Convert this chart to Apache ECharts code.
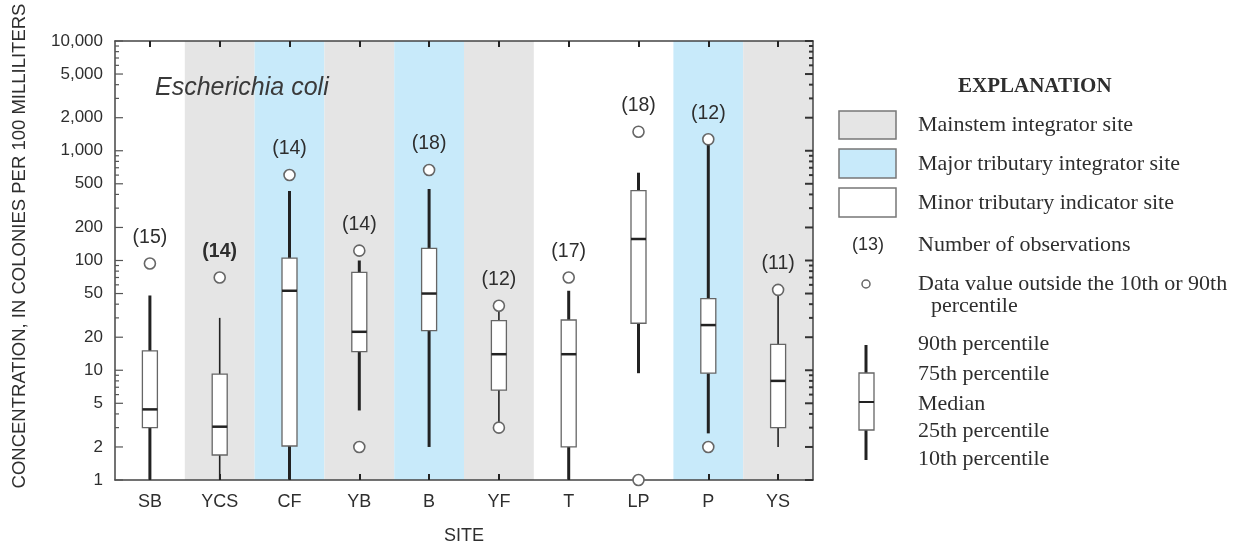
<!DOCTYPE html>
<html>
<head>
<meta charset="utf-8">
<script src="https://cdn.jsdelivr.net/npm/echarts@6/dist/echarts.min.js"></script>
<style>
html,body{margin:0;padding:0;background:#fff;}
#chart{width:1252px;height:546px;}
</style>
</head>
<body>
<div id="chart"></div>
<script>
// ---------- data ----------
const categories = ['SB','YCS','CF','YB','B','YF','T','LP','P','YS'];
const siteTypes = ['minor','mainstem','major','mainstem','major','mainstem','minor','minor','major','mainstem'];
const p10    = [1,    1,    1,    4.3,  2.0,  3.3,  1,    9.4,  2.66, 2.0];
const p25    = [3.0,  1.69, 2.04, 14.8, 23,   6.6,  2.0,  26.8, 9.4,  3.0];
const median = [4.4,  3.06, 53,   22.4, 50,   14,   14,   157,  25.8, 8.0];
const p75    = [15,   9.2,  105,  78,   129,  28.3, 28.7, 433,  45,   17.2];
const p90    = [48,   30,   430,  100,  448,  35,   53,   631,  1150, 49];
const outlierSites  = ['SB','YCS','CF','YB','YB','B','YF','YF','T','LP','LP','P','P','YS'];
const outlierValues = [94,  70,   601, 123, 2.0, 668, 38.7, 3.0, 70, 1492, 1,  1271, 2.0, 54];
const counts = [15,14,14,14,18,12,17,18,12,11];
const yTickValues = [1,2,3,4,5,6,7,8,9,10,20,30,40,50,60,70,80,90,100,200,300,400,500,600,700,800,900,
                     1000,2000,3000,4000,5000,6000,7000,8000,9000,10000];
const yLabelValues = [1,2,5,10,20,50,100,200,500,1000,2000,5000,10000];
const yTickLabels  = ['1','2','5','10','20','50','100','200','500','1,000','2,000','5,000','10,000'];

// ---------- styles ----------
const bandColors = {mainstem:'#e5e5e5', major:'#c8eafa', minor:'rgba(0,0,0,0)'};
const thinWhiskerSites = ['YCS','YF','YS'];
const boldCountSites = ['YCS'];
const TXT = '#2e2e2e';

const topValues = categories.map((c,i) => {
  let m = p90[i];
  outlierSites.forEach((s,k) => { if (s === c && outlierValues[k] > m) m = outlierValues[k]; });
  return m;
});

const chart = echarts.init(document.getElementById('chart'));

const serif = 'Liberation Serif';
const sans = 'Liberation Sans';
const LF = '22px "' + serif + '"';

const legendGraphics = [
  {type:'text', left:958, top:76, style:{text:'EXPLANATION', font:'bold 21px "'+serif+'"', fill:TXT}},
  {type:'rect', shape:{x:839,y:111,width:57,height:28}, style:{fill:bandColors.mainstem, stroke:'#777', lineWidth:1.5}},
  {type:'rect', shape:{x:839,y:149,width:57,height:29}, style:{fill:bandColors.major, stroke:'#777', lineWidth:1.5}},
  {type:'rect', shape:{x:839,y:188,width:57,height:29}, style:{fill:'#fff', stroke:'#777', lineWidth:1.5}},
  {type:'text', x:918, y:125, style:{text:'Mainstem integrator site', font:LF, fill:TXT, verticalAlign:'middle'}},
  {type:'text', x:918, y:164, style:{text:'Major tributary integrator site', font:LF, fill:TXT, verticalAlign:'middle'}},
  {type:'text', x:918, y:203, style:{text:'Minor tributary indicator site', font:LF, fill:TXT, verticalAlign:'middle'}},
  {type:'text', x:868, y:245, style:{text:'(13)', font:'18px "'+sans+'"', fill:TXT, align:'center', verticalAlign:'middle'}},
  {type:'text', x:918, y:245, style:{text:'Number of observations', font:LF, fill:TXT, verticalAlign:'middle'}},
  {type:'circle', shape:{cx:866, cy:284, r:4}, style:{fill:'#fff', stroke:'#666', lineWidth:1.5}},
  {type:'text', x:918, y:284, style:{text:'Data value outside the 10th or 90th', font:LF, fill:TXT, verticalAlign:'middle'}},
  {type:'text', x:931, y:306, style:{text:'percentile', font:LF, fill:TXT, verticalAlign:'middle'}},
  {type:'line', shape:{x1:866,y1:345,x2:866,y2:373}, style:{stroke:'#222', lineWidth:3}},
  {type:'line', shape:{x1:866,y1:430,x2:866,y2:460}, style:{stroke:'#222', lineWidth:3}},
  {type:'rect', shape:{x:859,y:373,width:15,height:57}, style:{fill:'#fff', stroke:'#666', lineWidth:1.3}},
  {type:'line', shape:{x1:859,y1:402,x2:874,y2:402}, style:{stroke:'#222', lineWidth:2}},
  {type:'text', x:918, y:344, style:{text:'90th percentile', font:LF, fill:TXT, verticalAlign:'middle'}},
  {type:'text', x:918, y:374, style:{text:'75th percentile', font:LF, fill:TXT, verticalAlign:'middle'}},
  {type:'text', x:918, y:404, style:{text:'Median', font:LF, fill:TXT, verticalAlign:'middle'}},
  {type:'text', x:918, y:431, style:{text:'25th percentile', font:LF, fill:TXT, verticalAlign:'middle'}},
  {type:'text', x:918, y:459, style:{text:'10th percentile', font:LF, fill:TXT, verticalAlign:'middle'}}
];

const option = {
  animation:false,
  backgroundColor:'#fff',
  textStyle:{fontFamily:sans},
  grid:{left:115, top:41, width:698, height:439, containLabel:false, outerBoundsMode:'none'},
  xAxis:[
    {type:'category', data:categories, position:'bottom', boundaryGap:true, z:10,
     axisLine:{lineStyle:{color:'#444', width:1.5}},
     axisTick:{show:true, inside:true, alignWithLabel:true, length:6, lineStyle:{color:'#222', width:2}},
     axisLabel:{fontSize:18, color:TXT, margin:13, fontFamily:sans},
     name:'SITE', nameLocation:'middle', nameGap:47,
     nameTextStyle:{fontSize:18, color:TXT, fontFamily:sans},
     splitLine:{show:false}},
    {type:'category', data:categories, position:'top', boundaryGap:true, z:10,
     axisLine:{lineStyle:{color:'#444', width:1.5}},
     axisTick:{show:true, inside:true, alignWithLabel:true, length:6, lineStyle:{color:'#222', width:2}},
     axisLabel:{show:false}, splitLine:{show:false}}
  ],
  yAxis:[
    {type:'log', logBase:10, min:1, max:10000, position:'left', z:10,
     axisLine:{show:true, lineStyle:{color:'#444', width:1.5}},
     axisTick:{show:false}, minorTick:{show:false}, axisLabel:{show:false}, splitLine:{show:false}},
    {type:'log', logBase:10, min:1, max:10000, position:'right', z:10,
     axisLine:{show:true, lineStyle:{color:'#444', width:1.5}},
     axisTick:{show:false}, minorTick:{show:false}, axisLabel:{show:false}, splitLine:{show:false}}
  ],
  graphic:[
    {type:'text', x:20, y:246, rotation:Math.PI/2, z:100,
     style:{text:'CONCENTRATION, IN COLONIES PER 100 MILLILITERS', font:'18.5px "'+sans+'"', fill:TXT, align:'center', verticalAlign:'middle'}},
    {type:'text', x:155, y:88, z:100,
     style:{text:'Escherichia coli', font:'italic 25px "'+sans+'"', fill:'#3a3a3a', verticalAlign:'middle'}}
  ].concat(legendGraphics),
  series:[
    {
      type:'custom', name:'bands', z:1, silent:true,
      data: categories.map((c,i) => [i, 1, ['mainstem','major','minor'].indexOf(siteTypes[i])]),
      renderItem:(params, api) => {
        const i = api.value(0);
        const cs = params.coordSys;
        const x = api.coord([i, 1])[0];
        const w = api.size([1, 1])[0];
        const t = ['mainstem','major','minor'][api.value(2)];
        return {type:'rect', shape:{x:x - w/2, y:cs.y, width:w, height:cs.height},
                style:{fill:bandColors[t]}};
      }
    },
    {
      type:'custom', name:'yTicks', z:15, silent:true, clip:false,
      data: yTickValues.map(v => [0, v]),
      renderItem:(params, api) => {
        const v = api.value(1);
        const cs = params.coordSys;
        const y = api.coord([0, v])[1];
        const li = yLabelValues.indexOf(v);
        const len = li >= 0 ? 8 : 4;
        const children = [
          {type:'line', shape:{x1:cs.x, y1:y, x2:cs.x+len, y2:y}, style:{stroke:'#555', lineWidth:1.2}},
          {type:'line', shape:{x1:cs.x+cs.width, y1:y, x2:cs.x+cs.width-len, y2:y}, style:{stroke:'#333', lineWidth:2}}
        ];
        if (li >= 0) {
          children.push({type:'text', x:cs.x-12, y:y,
            style:{text:yTickLabels[li], font:'17px "'+sans+'"', fill:TXT, align:'right', verticalAlign:'middle'}});
        }
        return {type:'group', children};
      }
    },
    {
      type:'custom', name:'boxes', z:5, clip:false,
      data: categories.map((c,i) => [i, p10[i], p25[i], median[i], p75[i], p90[i]]),
      renderItem:(params, api) => {
        const i = api.value(0);
        const x = api.coord([i, 1])[0];
        const y10 = api.coord([i, api.value(1)])[1];
        const y25 = api.coord([i, api.value(2)])[1];
        const ym  = api.coord([i, api.value(3)])[1];
        const y75 = api.coord([i, api.value(4)])[1];
        const y90 = api.coord([i, api.value(5)])[1];
        const ww = thinWhiskerSites.indexOf(categories[i]) >= 0 ? 1.6 : 3;
        const bw = 15;
        return {type:'group', children:[
          {type:'line', shape:{x1:x, y1:y10, x2:x, y2:y25}, style:{stroke:'#222', lineWidth:ww}},
          {type:'line', shape:{x1:x, y1:y75, x2:x, y2:y90}, style:{stroke:'#222', lineWidth:ww}},
          {type:'rect', shape:{x:x-bw/2, y:y75, width:bw, height:y25-y75}, style:{fill:'#fff', stroke:'#666', lineWidth:1.3}},
          {type:'line', shape:{x1:x-bw/2, y1:ym, x2:x+bw/2, y2:ym}, style:{stroke:'#222', lineWidth:2.5}}
        ]};
      }
    },
    {
      type:'scatter', name:'outliers', z:20, clip:false, silent:true,
      symbol:'circle', symbolSize:11,
      itemStyle:{color:'#fff', borderColor:'#666', borderWidth:1.6, opacity:1},
      data: outlierSites.map((s,k) => [s, outlierValues[k]])
    },
    {
      type:'custom', name:'counts', z:20, clip:false, silent:true,
      data: categories.map((c,i) => [i, topValues[i], counts[i]]),
      renderItem:(params, api) => {
        const i = api.value(0);
        const p = api.coord([i, api.value(1)]);
        const bold = boldCountSites.indexOf(categories[i]) >= 0;
        return {type:'text', x:p[0], y:p[1] - 26,
          style:{text:'(' + api.value(2) + ')', font:(bold ? 'bold ' : '') + '19.5px "'+sans+'"',
                 fill:TXT, align:'center', verticalAlign:'middle'}};
      }
    }
  ]
};
chart.setOption(option);
</script>
</body>
</html>
